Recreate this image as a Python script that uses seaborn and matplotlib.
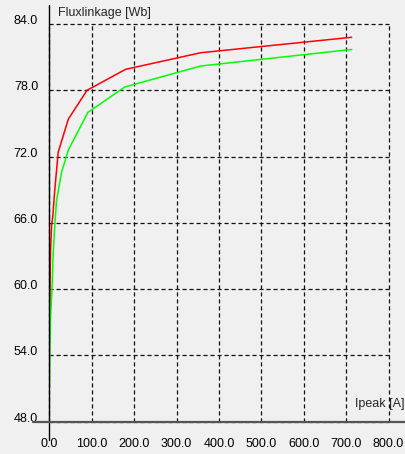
import numpy as np
import pandas as pd
import matplotlib
matplotlib.use("Agg")
import matplotlib.pyplot as plt
import seaborn as sns

# data
red_ipeak = [0.7, 1.5, 3.0, 5.5, 8.0, 13.0, 21.0, 45.0, 89.0, 180.0, 357.0, 713.0]
red_flux = [56.5, 59.5, 63.5, 65.8, 66.5, 69.0, 72.4, 75.4, 78.0, 79.9, 81.4, 82.8]
green_ipeak = [0.5, 1.5, 3.0, 6.0, 9.5, 13.5, 17.0, 29.0, 45.0, 91.0, 178.0, 357.0, 713.0]
green_flux = [51.1, 54.5, 57.5, 59.7, 63.5, 66.1, 68.0, 70.6, 72.6, 76.0, 78.3, 80.2, 81.7]

x_ticks = [0, 100, 200, 300, 400, 500, 600, 700, 800]
y_ticks = [48, 54, 60, 66, 72, 78, 84]

df = pd.concat([
    pd.DataFrame({"Ipeak": red_ipeak, "Flux": red_flux, "curve": "red"}),
    pd.DataFrame({"Ipeak": green_ipeak, "Flux": green_flux, "curve": "green"}),
])

sns.set_theme(style="white")
plt.rcParams["font.family"] = ["Liberation Sans", "DejaVu Sans"]

bg = "#f0f0f0"
fig = plt.figure(figsize=(4.06, 4.54), dpi=100, facecolor=bg)
ax = fig.add_axes([0.1214, 0.0711, 0.8357, 0.876], facecolor=bg)

sns.lineplot(data=df, x="Ipeak", y="Flux", hue="curve",
             palette={"red": "#ff0000", "green": "#00ff00"},
             estimator=None, sort=False, linewidth=1.1, legend=False, ax=ax)

ax.set_xlim(0, 800)
ax.set_ylim(48, 84)
ax.set_xticks(x_ticks)
ax.set_yticks(y_ticks)
ax.set_xticklabels([f"{v:.1f}" for v in x_ticks])
ax.set_yticklabels([f"{v:.1f}" for v in y_ticks])
ax.tick_params(axis="both", length=0, labelsize=9, colors="#000000")
ax.tick_params(axis="y", pad=8)
ax.tick_params(axis="x", pad=12)
for lab in ax.get_yticklabels():
    lab.set_verticalalignment("baseline")

ax.grid(True, color="#111111", linewidth=0.9, linestyle=(0, (3.3, 2.3)))
# keep the border grid lines (84 and 800) from being clipped in half
for gl in ax.get_xgridlines() + ax.get_ygridlines():
    gl.set_clip_on(False)
for s in ax.spines.values():
    s.set_visible(False)

# axis lines that run past the plot area
ax.axvline(0, ymin=-0.046, ymax=1.048, color="black", linewidth=1.0, clip_on=False, zorder=5)
ax.axhline(48, xmin=-0.048, xmax=1.051, color="#555555", linewidth=1.6, clip_on=False, zorder=5)

ax.set_xlabel("")
ax.set_ylabel("")
fig.text(0.143, 0.971, "Fluxlinkage [Wb]", fontsize=9, va="center", ha="left")
fig.text(0.997, 0.110, "Ipeak [A]", fontsize=9, va="center", ha="right")

fig.savefig("out.png", dpi=100, facecolor=bg)
